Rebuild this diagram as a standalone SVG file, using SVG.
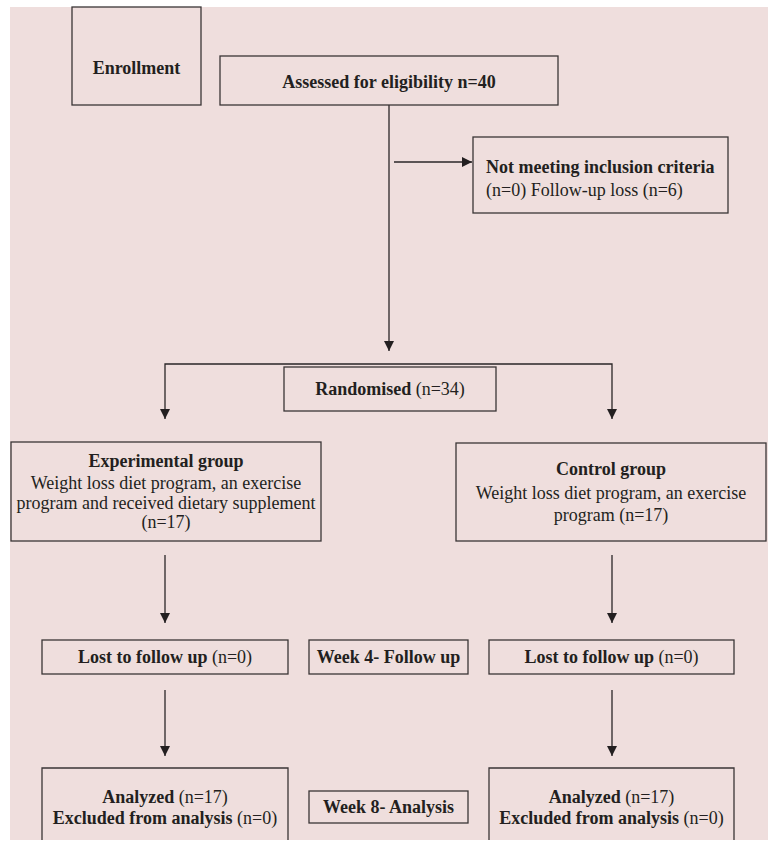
<svg xmlns="http://www.w3.org/2000/svg" width="773" height="843" viewBox="0 0 773 843">
<style>
.box{fill:none;stroke:#3a3536;stroke-width:1.3}
.ln{fill:none;stroke:#2a2627;stroke-width:1.3}
text{font-family:"Liberation Serif","Times New Roman",serif;font-size:18px;fill:#231f20}
.b{font-weight:bold}
.c{text-anchor:middle}
</style>
<defs>
<marker id="ah" viewBox="0 0 10 10" refX="10" refY="5" markerWidth="10" markerHeight="10" markerUnits="userSpaceOnUse" orient="auto">
<path d="M0,0 L10,5 L0,10 Z" fill="#231f20"/>
</marker>
</defs>
<rect width="773" height="843" fill="#ffffff"/>
<rect x="10" y="7" width="758" height="833" fill="#efdedd"/>
<g id="connectors">
<line class="ln" x1="389" y1="105" x2="389" y2="351" marker-end="url(#ah)"/>
<line class="ln" x1="394" y1="162" x2="472" y2="162" marker-end="url(#ah)"/>
<polyline class="ln" points="389,364 165,364 165,419" marker-end="url(#ah)"/>
<polyline class="ln" points="389,364 612,364 612,419" marker-end="url(#ah)"/>
<line class="ln" x1="165" y1="555" x2="165" y2="623" marker-end="url(#ah)"/>
<line class="ln" x1="612" y1="555" x2="612" y2="623" marker-end="url(#ah)"/>
<line class="ln" x1="165" y1="690" x2="165" y2="756" marker-end="url(#ah)"/>
<line class="ln" x1="612" y1="690" x2="612" y2="756" marker-end="url(#ah)"/>
</g>
<g id="enrollment">
<rect class="box" x="72" y="7" width="129" height="98"/>
<text class="b c" x="136.5" y="74">Enrollment</text>
</g>
<g id="assessed">
<rect class="box" x="220" y="56" width="338" height="49"/>
<text class="b c" x="389" y="88">Assessed for eligibility n=40</text>
</g>
<g id="notmeeting">
<rect class="box" x="473" y="137" width="255" height="76"/>
<text class="b" x="486" y="173">Not meeting inclusion criteria</text>
<text x="486" y="196">(n=0) Follow-up loss (n=6)</text>
</g>
<g id="randomised">
<rect class="box" x="284" y="367" width="212" height="44"/>
<text class="c" x="390" y="395"><tspan class="b">Randomised</tspan> (n=34)</text>
</g>
<g id="experimental">
<rect class="box" x="11" y="442" width="310" height="99"/>
<text class="b c" x="166" y="467">Experimental group</text>
<text class="c" x="166" y="489">Weight loss diet program, an exercise</text>
<text class="c" x="166" y="509">program and received dietary supplement</text>
<text class="c" x="166" y="528">(n=17)</text>
</g>
<g id="control">
<rect class="box" x="456" y="443" width="310" height="98"/>
<text class="b c" x="611" y="475">Control group</text>
<text class="c" x="611" y="499">Weight loss diet program, an exercise</text>
<text class="c" x="611" y="521">program (n=17)</text>
</g>
<g id="lost-left">
<rect class="box" x="42" y="640" width="246" height="34"/>
<text class="c" x="165" y="663"><tspan class="b">Lost to follow up</tspan> (n=0)</text>
</g>
<g id="week4">
<rect class="box" x="309" y="640" width="159" height="34"/>
<text class="b c" x="388.5" y="663">Week 4- Follow up</text>
</g>
<g id="lost-right">
<rect class="box" x="489" y="640" width="245" height="34"/>
<text class="c" x="611.5" y="663"><tspan class="b">Lost to follow up</tspan> (n=0)</text>
</g>
<g id="analyzed-left">
<path class="box" d="M42,840 V768 H288 V840"/>
<text class="c" x="165" y="803"><tspan class="b">Analyzed</tspan> (n=17)</text>
<text class="c" x="165" y="824"><tspan class="b">Excluded from analysis</tspan> (n=0)</text>
</g>
<g id="week8">
<rect class="box" x="309" y="791" width="159" height="32"/>
<text class="b c" x="388.5" y="813">Week 8- Analysis</text>
</g>
<g id="analyzed-right">
<path class="box" d="M489,840 V768 H734 V840"/>
<text class="c" x="611.5" y="803"><tspan class="b">Analyzed</tspan> (n=17)</text>
<text class="c" x="611.5" y="824"><tspan class="b">Excluded from analysis</tspan> (n=0)</text>
</g>
</svg>
